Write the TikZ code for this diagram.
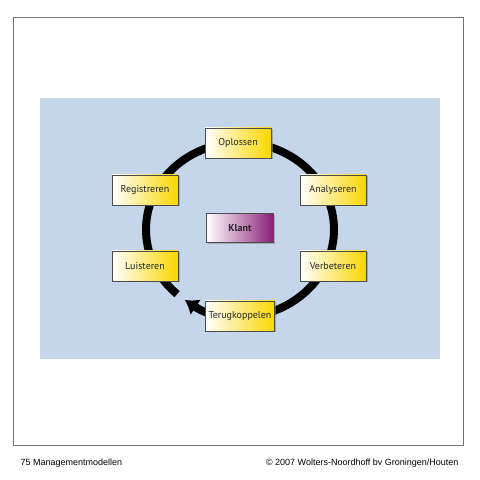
\documentclass[tikz,border=0pt]{standalone}
\usepackage{fontspec}
\setmainfont{PT Sans}
\newfontfamily\footfont{Liberation Sans}
\usepackage{xcolor}
\usetikzlibrary{calc,shapes,shadows,arrows.meta}
\definecolor{bgblue}{RGB}{197,214,234}
\definecolor{boxyellow}{RGB}{250,214,0}
\definecolor{klantpurple}{RGB}{140,30,120}
\tikzstyle{stepbox}=[rectangle,draw=black!70,line width=0.6pt,minimum width=66pt,minimum height=30pt,
  left color=white,right color=boxyellow,font=\fontsize{10}{12}\selectfont,text=black!85,
  drop shadow={shadow xshift=1.5pt,shadow yshift=-1.5pt,fill=black!45,opacity=0.6}]
\tikzstyle{klantbox}=[stepbox,left color=white,right color=klantpurple,minimum width=67pt,minimum height=29pt]

\begin{document}
\begin{tikzpicture}[x=1pt,y=1pt]
    \useasboundingbox (0,0) rectangle (480,480);
    % frame and background
    \draw[black!55,line width=1pt] (13,462) rectangle (463,34);
    \fill[bgblue] (40,382) rectangle (440,121);
    % the ring
    \coordinate (mid) at (240,250.5);
    \draw[line width=8pt,-{Latex[length=13pt,width=19pt]}]
        ($(mid)+(588:94 and 87)$) arc[start angle=588,end angle=234,x radius=94,y radius=87];
    % the steps
    \node[stepbox] (opl) at (238,337) {Oplossen};
    \node[stepbox] (reg) at (145,290) {Registreren};
    \node[stepbox] (ana) at (333,290) {Analyseren};
    \node[stepbox] (lui) at (145,214) {Luisteren};
    \node[stepbox] (ver) at (333,214) {Verbeteren};
    \node[stepbox] (ter) at (240,164) {Terugkoppelen};
    % centre
    \node[klantbox] (klant) at (240,252) {\textbf{Klant}};
    % footer
    \node[anchor=west,font=\footfont\fontsize{9}{10}\selectfont] (title) at (17,17) {75 Managementmodellen};
    \node[anchor=east,font=\footfont\fontsize{9}{10}\selectfont] (copy) at (462,17) {\textcopyright{} 2007 Wolters-Noordhoff bv Groningen/Houten};
\end{tikzpicture}
\end{document}
